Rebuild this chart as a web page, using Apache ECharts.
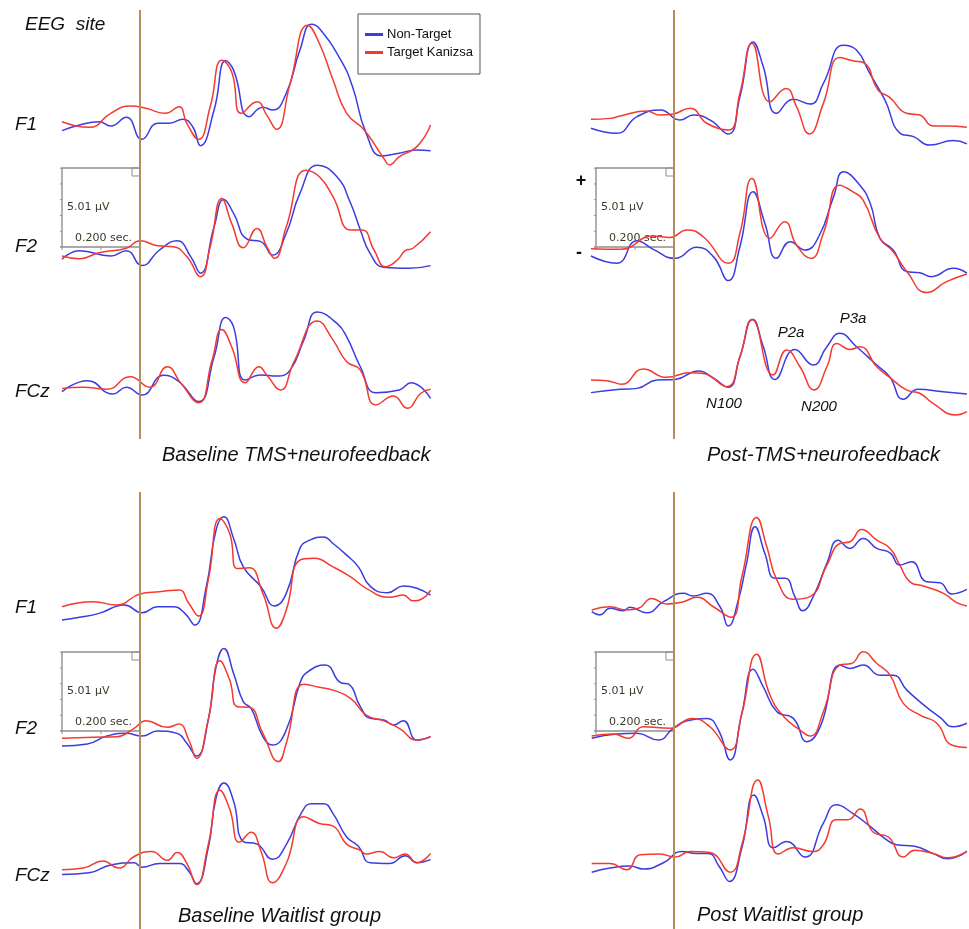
<!DOCTYPE html>
<html>
<head>
<meta charset="utf-8">
<script src="https://cdn.jsdelivr.net/npm/echarts@6/dist/echarts.min.js"></script>
<style>
  html, body { margin: 0; padding: 0; background: #ffffff; }
  #chart { width: 969px; height: 929px; }
</style>
</head>
<body>
<div id="chart"></div>
<script>
// Grand-average ERPs, [time (ms), amplitude (µV)], Non-Target vs Target Kanizsa.

// Baseline TMS+neurofeedback
const baseTmsF1Non = [[-200,-0.36],[-155,0],[-105,0.21],[-75,-0.06],[-35,0.49],[5,-0.91],[45,0.11],[75,0.11],[110,0.36],[135,-0.11],[155,-1.31],[190,0.95],[220,4.07],[240,3.48],[280,0.53],[315,1.12],[340,0.95],[375,2.01],[410,4.75],[440,6.39],[460,6.12],[515,4.11],[545,2.42],[580,-0.53],[620,-1.96],[665,-1.79],[710,-1.58],[745,-1.63]];
const baseTmsF1Tgt = [[-200,0.21],[-130,-0.15],[-75,0.74],[-25,1.2],[15,1.06],[65,0.74],[100,1.16],[120,0.11],[150,-0.91],[180,1.16],[210,4.11],[235,3.37],[260,0.74],[300,1.47],[325,0.63],[350,-0.27],[385,2.64],[430,6.33],[460,5.17],[495,2.85],[530,0.74],[575,-0.32],[625,-2.11],[640,-2.53],[665,-2.0],[710,-1.37],[745,0]];
const baseTmsF2Non = [[-200,-0.78],[-155,-0.23],[-75,-0.57],[-35,-0.23],[5,-1.18],[50,-0.19],[95,0.4],[130,-0.61],[155,-1.66],[190,1.28],[215,3.02],[240,2.13],[275,0.49],[310,0.34],[340,-0.51],[375,0.87],[410,3.4],[455,5.19],[505,4.45],[540,2.77],[565,1.08],[590,-0.4],[625,-1.28],[690,-1.35],[745,-1.18]];
const baseTmsF2Tgt = [[-200,-0.57],[-155,-0.74],[-105,-0.36],[-35,-0.08],[0,0.4],[45,0.08],[85,0.02],[120,-0.61],[155,-1.88],[180,0.02],[210,3.08],[235,1.5],[265,-0.04],[300,1.18],[325,0.02],[345,-0.72],[375,1.28],[425,4.87],[460,4.45],[495,3.18],[540,1.08],[570,1.08],[600,-0.19],[630,-1.25],[660,-0.82],[680,-0.23],[700,-0.08],[745,0.97]];
const baseTmsFCzNon = [[-200,0.02],[-135,0.72],[-70,-0.13],[-35,0.3],[5,-0.19],[60,1.06],[100,0.65],[150,-0.61],[190,2.23],[220,4.73],[240,4.13],[270,0.76],[310,1.08],[350,1.01],[385,1.39],[420,3.29],[455,5.08],[505,4.35],[530,3.5],[565,1.6],[605,-0.04],[665,0.13],[695,0.59],[745,-0.4]];
const baseTmsFCzTgt = [[-200,0.23],[-145,0.3],[-85,0.17],[-25,0.97],[25,0.3],[70,1.6],[105,0.55],[150,-0.68],[185,2.03],[210,3.97],[235,2.87],[270,0.59],[305,1.6],[325,1.08],[360,0.13],[395,1.92],[455,4.51],[495,3.29],[530,1.92],[565,1.39],[605,-0.82],[650,-0.25],[685,-1.03],[720,-0.08],[745,0.17]];

// Post-TMS+neurofeedback
const postTmsF1Non = [[-213,-0.21],[-147,-0.53],[-95,0.53],[-35,0.95],[15,0.32],[50,0.63],[92,0.32],[139,-0.57],[169,1.79],[203,5.27],[229,3.69],[263,0.74],[306,1.63],[349,1.33],[383,2.64],[434,5.06],[468,4.75],[502,3.27],[541,1.58],[580,-0.53],[614,-0.74],[656,-1.27],[716,-0.99],[751,-1.2]];
const postTmsF1Tgt = [[-213,0.36],[-164,0.42],[-138,0.57],[-70,0.89],[-36,0.63],[-2,0.7],[41,1.06],[84,0.11],[139,-0.32],[169,2.01],[200,5.17],[246,1.47],[287,2.32],[314,1.16],[347,-0.57],[383,1.37],[425,4.28],[459,4.07],[489,3.91],[523,2.22],[553,1.75],[596,0.74],[630,0.63],[664,-0.06],[699,-0.06],[751,-0.15]];
const postTmsF2Non = [[-213,-0.57],[-147,-1.03],[-95,0.4],[-53,-0.15],[3,-0.72],[58,-0.02],[101,-0.61],[139,-2.13],[169,0.02],[203,3.5],[233,1.5],[263,-0.72],[298,0.34],[336,-0.19],[371,0.65],[409,3.18],[435,4.77],[473,4.03],[503,2.77],[528,0.55],[562,-0.19],[597,-1.56],[630,-1.63],[660,-1.88],[716,-1.35],[751,-1.66]];
const postTmsF2Tgt = [[-213,-0.11],[-138,-0.15],[-53,0.7],[-10,0.61],[33,1.08],[75,0.65],[139,-1.03],[169,0.87],[200,4.35],[246,0.55],[284,1.6],[314,0.13],[351,-0.72],[383,0.87],[425,3.92],[459,3.5],[485,2.97],[528,0.55],[562,-0.3],[597,-1.56],[648,-2.89],[699,-2.2],[751,-1.71]];
const postTmsFCzNon = [[-213,-0.04],[-138,0.17],[-95,0.23],[-44,0.76],[3,0.8],[63,1.33],[101,0.87],[139,0.3],[169,2.23],[202,4.6],[229,2.87],[259,0.8],[310,2.7],[357,1.71],[392,2.87],[425,3.72],[468,2.87],[520,1.71],[553,0.97],[588,-0.46],[626,0.17],[690,0.02],[751,-0.13]];
const postTmsFCzTgt = [[-213,0.76],[-172,0.72],[-134,0.49],[-79,1.46],[-19,0.93],[41,1.22],[75,1.18],[135,0.34],[169,2.23],[200,4.6],[254,1.08],[289,2.66],[323,1.6],[359,0.13],[392,1.6],[418,3.08],[451,2.7],[477,2.87],[520,1.6],[553,0.93],[596,0.13],[630,-0.08],[664,-0.72],[724,-1.46],[751,-1.25]];

// Baseline Waitlist group
const baseWaitF1Non = [[-200,-0.76],[-155,-0.59],[-105,-0.34],[-40,0.19],[5,-0.3],[45,0.08],[85,0.08],[115,-0.34],[140,-1.08],[170,1.35],[195,4.94],[215,5.78],[240,4.41],[265,2.61],[310,1.35],[345,0.13],[375,0.93],[410,3.78],[435,4.3],[470,4.51],[495,4.09],[530,3.35],[560,2.61],[590,1.39],[635,0.97],[675,1.39],[710,1.25],[745,0.82]];
const baseWaitF1Tgt = [[-200,0.08],[-120,0.4],[-60,0.19],[0,0.89],[50,1.03],[100,1.14],[125,0.3],[150,-0.51],[175,1.77],[205,5.68],[230,4.73],[250,2.5],[280,2.56],[315,0.93],[350,-1.28],[375,-0.13],[410,3.04],[445,3.15],[495,2.61],[540,1.98],[580,1.25],[640,0.68],[675,0.82],[700,0.46],[725,0.61],[745,1.14]];
const baseWaitF2Non = [[-200,-0.95],[-135,-0.82],[-85,-0.32],[-35,-0.15],[5,-0.32],[45,0],[95,-0.15],[120,-0.78],[145,-1.58],[175,0.7],[195,4.07],[215,5.23],[240,3.65],[265,1.85],[285,1.43],[315,-0.36],[340,-0.89],[375,0.06],[410,3.02],[430,3.75],[475,4.18],[515,3.06],[535,2.97],[565,1.54],[590,0.8],[625,0.7],[650,0.38],[675,0.65],[710,-0.57],[745,-0.36]];
const baseWaitF2Tgt = [[-200,-0.46],[-120,-0.4],[-60,-0.36],[-15,0.17],[15,0.65],[70,0.23],[100,0.44],[125,-0.57],[145,-1.73],[175,0.7],[205,4.45],[230,3.23],[250,1.54],[280,1.5],[315,-0.15],[355,-1.94],[375,-0.78],[420,2.97],[460,2.77],[495,2.59],[540,2.07],[580,1.01],[625,0.65],[665,0.17],[710,-0.57],[745,-0.36]];
const baseWaitFCzNon = [[-200,-0.3],[-130,-0.19],[-75,0.34],[-15,0.49],[5,0.19],[50,0.44],[100,0.44],[125,-0.08],[145,-0.93],[175,1.5],[195,4.87],[215,5.89],[240,4.66],[265,1.92],[300,1.75],[340,0.72],[375,1.71],[415,3.92],[440,4.49],[470,4.49],[495,3.82],[530,2.23],[560,1.6],[590,0.49],[640,0.44],[680,0.97],[710,0.49],[745,0.7]];
const baseWaitFCzTgt = [[-200,0.02],[-145,0.13],[-95,0.61],[-55,0.13],[-15,0.91],[30,1.25],[70,0.65],[95,1.18],[120,0.44],[145,-0.99],[175,1.71],[205,5.4],[230,4.13],[255,1.88],[285,2.55],[310,1.28],[340,-0.87],[375,0.44],[420,3.61],[460,3.15],[495,2.97],[530,1.75],[565,1.33],[580,1.08],[615,1.25],[650,0.82],[680,1.08],[710,0.49],[745,1.12]];

// Post Waitlist group
const postWaitF1Non = [[-211,-0.23],[-190,-0.44],[-164,-0.02],[-130,-0.17],[-113,0.04],[-70,-0.3],[-27,0.4],[24,0.93],[49,0.76],[84,0.93],[118,0.08],[139,-1.14],[165,0.51],[186,2.83],[208,5.15],[233,3.46],[259,1.88],[285,1.88],[310,0.72],[330,-0.17],[357,0.72],[392,2.83],[421,4.3],[451,3.78],[485,4.41],[520,3.78],[554,3.5],[579,2.72],[609,2.93],[648,1.66],[682,1.6],[712,0.89],[751,1.18]];
const postWaitF1Tgt = [[-211,-0.13],[-164,0.08],[-121,-0.13],[-91,-0.02],[-57,0.61],[-19,0.25],[24,0.4],[58,0.68],[101,0.08],[146,-0.59],[174,1.98],[212,5.74],[238,3.88],[264,1.77],[306,0.55],[349,0.72],[392,2.72],[425,4.09],[451,4.2],[481,4.98],[520,4.3],[554,3.78],[579,2.72],[605,1.66],[640,1.39],[691,0.93],[725,0.34],[751,0.13]];
const postWaitF2Non = [[-211,-0.46],[-147,-0.19],[-95,-0.15],[-40,-0.57],[-2,0.17],[33,0.65],[84,0.8],[114,0.06],[144,-1.84],[174,1.12],[203,3.91],[229,2.8],[264,1.22],[306,0.8],[341,-0.68],[375,0.27],[426,4.18],[451,3.97],[485,4.18],[528,3.54],[562,3.54],[597,2.59],[648,1.5],[682,0.87],[716,0.27],[751,0.49]];
const postWaitF2Tgt = [[-211,-0.32],[-156,-0.19],[-117,-0.46],[-79,0.27],[-10,0.17],[46,0.8],[92,0.27],[144,-1.2],[174,1.12],[212,4.87],[246,2.28],[280,0.95],[323,0.06],[349,-0.32],[383,1.22],[425,4.18],[455,4.28],[485,5.02],[520,4.28],[554,3.54],[588,1.75],[631,1.01],[674,0.49],[712,-0.89],[751,-1.04]];
const postWaitFCzNon = [[-211,-0.15],[-164,0.13],[-113,0.27],[-79,0.06],[-27,0.49],[20,1.25],[58,1.12],[88,1.12],[116,0.23],[142,-0.78],[174,1.5],[205,5.08],[229,3.61],[255,1.5],[289,1.92],[336,0.87],[383,3.18],[416,4.41],[459,3.82],[502,2.97],[536,2.23],[570,1.71],[617,1.6],[664,1.12],[702,0.76],[751,1.25]];
const postWaitFCzTgt = [[-211,0.44],[-164,0.44],[-121,0.02],[-87,1.03],[-36,1.08],[3,0.87],[41,1.25],[92,1.18],[144,-0.15],[174,1.71],[215,6.09],[242,3.61],[268,1.08],[306,1.5],[357,1.25],[383,1.71],[416,3.4],[446,3.4],[477,4.13],[511,2.55],[550,2.23],[588,0.87],[617,1.33],[664,1.12],[702,0.82],[751,1.28]];

const sites = ['F1', 'F2', 'FCz'];
const conditionNames = ['Non-Target', 'Target Kanizsa'];
const panelTitles = ['Baseline TMS+neurofeedback', 'Post-TMS+neurofeedback', 'Baseline Waitlist group', 'Post Waitlist group'];
const scaleUv = 5.01;      // calibration box height
const scaleSec = 0.200;    // calibration box width
const componentNames = ['N100', 'P2a', 'N200', 'P3a'];

// ---- layout ----
const PX_PER_UV = 79 / scaleUv;
const PX_PER_MS = 78 / (scaleSec * 1000);
const UV_MIN = -4, UV_MAX = 7;
const BLUE = '#3c3ce0';
const RED = '#f43a30';
const ONSET = '#b98a5c';
const LABEL_FONT = "'Liberation Sans', Arial, sans-serif";

const panels = [
  { onsetX: 140, tMin: -200, tMax: 745, rowsY0: [125, 247, 392], frame: [10, 439],
    traces: [[baseTmsF1Non, baseTmsF1Tgt], [baseTmsF2Non, baseTmsF2Tgt], [baseTmsFCzNon, baseTmsFCzTgt]] },
  { onsetX: 674, tMin: -215, tMax: 755, rowsY0: [125, 247, 392], frame: [10, 439],
    traces: [[postTmsF1Non, postTmsF1Tgt], [postTmsF2Non, postTmsF2Tgt], [postTmsFCzNon, postTmsFCzTgt]] },
  { onsetX: 140, tMin: -200, tMax: 745, rowsY0: [608, 731, 877], frame: [492, 929],
    traces: [[baseWaitF1Non, baseWaitF1Tgt], [baseWaitF2Non, baseWaitF2Tgt], [baseWaitFCzNon, baseWaitFCzTgt]] },
  { onsetX: 674, tMin: -215, tMax: 755, rowsY0: [608, 731, 877], frame: [492, 929],
    traces: [[postWaitF1Non, postWaitF1Tgt], [postWaitF2Non, postWaitF2Tgt], [postWaitFCzNon, postWaitFCzTgt]] }
];

const grids = [], xAxes = [], yAxes = [], series = [];

function addGrid(left, top, width, height, tMin, tMax, yMin, yMax) {
  const idx = grids.length;
  grids.push({ left, top, width, height, containLabel: false, show: false });
  xAxes.push({ gridIndex: idx, type: 'value', min: tMin, max: tMax, show: false });
  yAxes.push({ gridIndex: idx, type: 'value', min: yMin, max: yMax, show: false });
  return idx;
}

// calibration box: rectangle spanning scaleSec x scaleUv, with ticks and captions
function renderScaleBox(params, api) {
  const pBL = api.coord([api.value(0), api.value(1)]);
  const pTR = api.coord([api.value(2), api.value(3)]);
  const x = pBL[0], yb = pBL[1], xr = pTR[0], yt = pTR[1];
  const stroke = '#8f8f8f';
  const children = [
    { type: 'rect', shape: { x: x, y: yt, width: xr - x, height: yb - yt },
      style: { fill: 'none', stroke: stroke, lineWidth: 1.4 } },
    { type: 'rect', shape: { x: xr - 8, y: yt, width: 8, height: 8 },
      style: { fill: 'none', stroke: stroke, lineWidth: 1 } },
    { type: 'line', shape: { x1: x - 2, y1: yb, x2: x, y2: yb }, style: { stroke: stroke, lineWidth: 1.4 } }
  ];
  for (let v = 1; v < api.value(3); v += 1) {
    const py = api.coord([api.value(0), v])[1];
    children.push({ type: 'line', shape: { x1: x - 2, y1: py, x2: x, y2: py }, style: { stroke: stroke, lineWidth: 1 } });
  }
  for (let t = api.value(0); t <= api.value(2); t += 100) {
    const px = api.coord([t, 0])[0];
    children.push({ type: 'line', shape: { x1: px, y1: yb, x2: px, y2: yb + 3 }, style: { stroke: stroke, lineWidth: 1 } });
  }
  children.push({ type: 'text', style: { x: x + 5, y: (yt + yb) / 2, text: api.value(3).toFixed(2) + ' µV',
    font: "11px 'DejaVu Sans', sans-serif", fill: '#3b3a28', textAlign: 'left', textVerticalAlign: 'middle', align: 'left', verticalAlign: 'middle' } });
  children.push({ type: 'text', style: { x: x + 13, y: yb - 8.5, text: ((api.value(2) - api.value(0)) / 1000).toFixed(3) + ' sec.',
    font: "11px 'DejaVu Sans', sans-serif", fill: '#3b3a28', textAlign: 'left', textVerticalAlign: 'middle', align: 'left', verticalAlign: 'middle' } });
  return { type: 'group', children: children };
}

panels.forEach(function (p) {
  const left = p.onsetX + p.tMin * PX_PER_MS;
  const width = (p.tMax - p.tMin) * PX_PER_MS;

  // stimulus onset line over the whole panel height
  const fIdx = addGrid(left, p.frame[0], width, p.frame[1] - p.frame[0], p.tMin, p.tMax, 0, 1);
  series.push({
    type: 'line', xAxisIndex: fIdx, yAxisIndex: fIdx, data: [[0, 0.5]], showSymbol: false, silent: true,
    lineStyle: { opacity: 0 }, z: 1,
    markLine: { silent: true, symbol: ['none', 'none'], animation: false, label: { show: false },
      lineStyle: { color: ONSET, width: 2, type: 'solid' }, data: [{ xAxis: 0 }] }
  });

  p.rowsY0.forEach(function (y0, r) {
    const gIdx = addGrid(left, y0 - UV_MAX * PX_PER_UV, width, (UV_MAX - UV_MIN) * PX_PER_UV, p.tMin, p.tMax, UV_MIN, UV_MAX);
    if (r === 1) {
      series.push({
        type: 'custom', xAxisIndex: gIdx, yAxisIndex: gIdx, silent: true, z: 2, clip: false,
        data: [[-scaleSec * 1000, 0, 0, scaleUv]], renderItem: renderScaleBox
      });
    }
    [BLUE, RED].forEach(function (c, k) {
      series.push({
        name: conditionNames[k], type: 'line', xAxisIndex: gIdx, yAxisIndex: gIdx,
        data: p.traces[r][k], smooth: 0.5, showSymbol: false, symbol: 'none',
        clip: false, z: 3, silent: true,
        lineStyle: { color: c, width: 1.5 }, itemStyle: { color: c }
      });
    });
  });
});

// text labels
const graphics = [];
function addText(text, x, y, font, opts) {
  graphics.push({ type: 'text', silent: true, z: 10,
    style: Object.assign({ x: x, y: y, text: text, font: font, fill: '#111', textAlign: 'left', textVerticalAlign: 'middle' }, opts || {}) });
}
addText('EEG  site', 25, 25, "italic 19px " + LABEL_FONT);
[[125, 247, 392], [608, 729, 876]].forEach(function (ys) {
  ys.forEach(function (y, i) { addText(sites[i], 15, y, "italic 19px " + LABEL_FONT); });
});
addText('+', 581, 181, "bold 18px " + LABEL_FONT, { textAlign: 'center' });
addText('-', 579, 253, "bold 18px " + LABEL_FONT, { textAlign: 'center' });
addText(panelTitles[0], 162, 455, "italic 20px " + LABEL_FONT);
addText(panelTitles[1], 707, 455, "italic 20px " + LABEL_FONT);
addText(panelTitles[2], 178, 916, "italic 20px " + LABEL_FONT);
addText(panelTitles[3], 697, 915, "italic 20px " + LABEL_FONT);
const compPos = [[724, 404], [791, 333], [819, 407], [853, 319]];
componentNames.forEach(function (n, i) {
  addText(n, compPos[i][0], compPos[i][1], "italic 15px " + LABEL_FONT, { textAlign: 'center' });
});

const chart = echarts.init(document.getElementById('chart'), null, { renderer: 'canvas' });
chart.setOption({
  backgroundColor: '#ffffff',
  animation: false,
  legend: {
    data: conditionNames, orient: 'vertical', left: 358, top: 14,
    icon: 'rect', itemWidth: 18, itemHeight: 3, itemGap: 3,
    padding: [13, 7, 14, 7], borderColor: '#555', borderWidth: 1, backgroundColor: '#fff',
    textStyle: { fontSize: 13, lineHeight: 15, color: '#111', fontFamily: LABEL_FONT, padding: [0, 0, 0, -1] },
    selectedMode: false
  },
  grid: grids, xAxis: xAxes, yAxis: yAxes, series: series,
  graphic: { elements: graphics }
});
</script>
</body>
</html>
